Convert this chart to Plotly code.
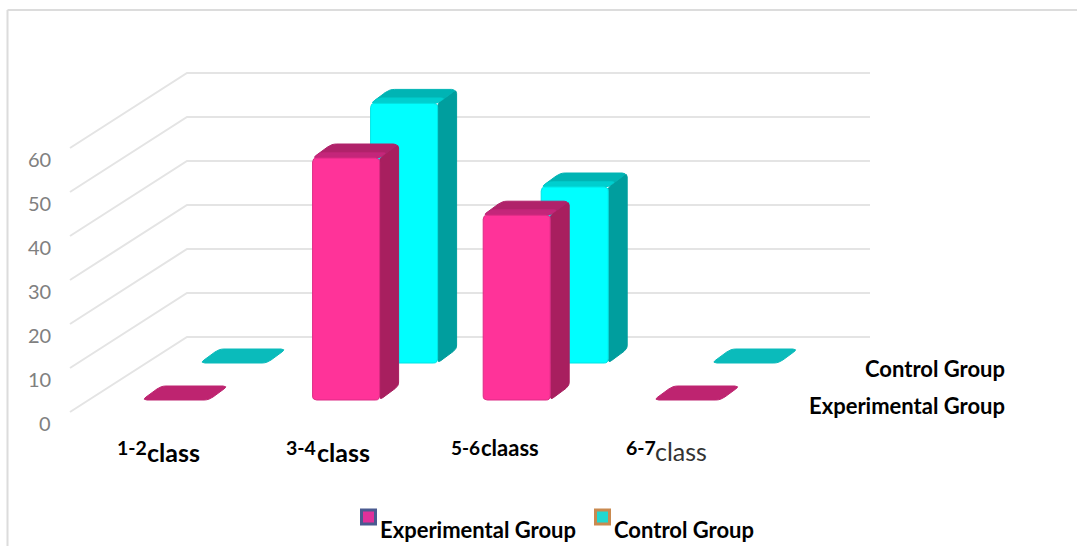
import numpy as np
import plotly.graph_objects as go

# Chart data
categories = ["1-2", "3-4", "5-6", "6-7"]
category_suffix = ["class", "class", "claass", "class"]
experimental = [0, 55, 42, 0]
control = [0, 59, 40, 0]
y_ticks = [0, 10, 20, 30, 40, 50, 60]
series_names = ["Experimental Group", "Control Group"]

# Axis scale: the x axis runs in category units, the y axis in value units
W, H = 1077, 546
PX_PER_CAT = 170.6
PX_PER_VAL = 4.4
X0_PX = 142.0
Y0_PX = 400.0


def cat_from_px(px):
    return (px - X0_PX) / PX_PER_CAT


def val_from_px(py):
    return (Y0_PX - py) / PX_PER_VAL


# Oblique projection, expressed as pixel offsets
BAR_W = 67
DEPTH_DX, DEPTH_DY = 19, 14
ROW_DX, ROW_DY = 58, 37
WALL_LEFT, WALL_FRONT_Y = 70, 412
WALL_BACK, WALL_BACK_Y = 187, 337
WALL_RIGHT = 870


def rounded(points, r):
    """Polygon in pixel offsets with softened corners, returned in axis units."""
    pts = np.array(points, dtype=float)
    n = len(pts)
    out = []
    for i in range(n):
        p, prev, nxt = pts[i], pts[i - 1], pts[(i + 1) % n]
        a = p + (prev - p) * min(r / max(np.linalg.norm(prev - p), 1e-6), 0.45)
        b = p + (nxt - p) * min(r / max(np.linalg.norm(nxt - p), 1e-6), 0.45)
        for t in np.linspace(0, 1, 5):
            out.append((1 - t) ** 2 * a + 2 * t * (1 - t) * p + t ** 2 * b)
    out.append(out[0])
    out = np.array(out)
    return cat_from_px(out[:, 0]), val_from_px(out[:, 1])


def face(fig, points, fill, edge=None, r=2.5, width=1):
    xs, ys = rounded(points, r)
    fig.add_trace(go.Scatter(
        x=xs, y=ys, mode="lines", fill="toself", fillcolor=fill,
        line=dict(color=edge or fill, width=width),
        hoverinfo="skip", showlegend=False,
    ))


def draw_bar(fig, index, value, row, colors):
    left = X0_PX + index * PX_PER_CAT + row * ROW_DX
    right = left + BAR_W
    base = Y0_PX - row * ROW_DY
    top = base - value * PX_PER_VAL
    front_color, front_edge, side, top_back, top_front, flat = colors
    if value > 0:
        # Right-hand side face
        face(fig, [(right, base), (right + DEPTH_DX, base - DEPTH_DY),
                   (right + DEPTH_DX, top - DEPTH_DY), (right, top)], side, r=4)
    # Upper face, darker towards the back
    face(fig, [(left, top), (left + DEPTH_DX, top - DEPTH_DY),
               (right + DEPTH_DX, top - DEPTH_DY), (right, top)],
         top_back if value > 0 else flat, r=5)
    if value > 0:
        mx, my = DEPTH_DX * 0.4, DEPTH_DY * 0.4
        face(fig, [(left, top), (left + mx, top - my),
                   (right + mx, top - my), (right, top)], top_front, r=4, width=0.5)
        # Front face
        face(fig, [(left, base), (left, top), (right, top), (right, base)],
             front_color, edge=front_edge, r=4)


fig = go.Figure()

# Wall and floor gridlines
for tick in y_ticks:
    xs = cat_from_px(np.array([WALL_LEFT, WALL_BACK, WALL_RIGHT], dtype=float))
    ys = val_from_px(np.array([WALL_FRONT_Y, WALL_BACK_Y, WALL_BACK_Y], dtype=float)) + tick
    fig.add_trace(go.Scatter(
        x=xs, y=ys, mode="lines", line=dict(color="#e4e4e4", width=2),
        hoverinfo="skip", showlegend=False,
    ))

control_colors = ("#00FFFF", "#00E4E4", "#009E9E", "#00B4B4", "#00CFCF", "#0ABBBB")
experimental_colors = ("#FF3399", "#DC2A84", "#A81F5F", "#B0226A", "#C4267A", "#BE2470")

for i, v in enumerate(control):
    draw_bar(fig, i, v, 1, control_colors)
for i, v in enumerate(experimental):
    draw_bar(fig, i, v, 0, experimental_colors)

annotations = []


def label(px, py, text, size, color="#000000", anchor="left", bold=True):
    annotations.append(dict(
        x=cat_from_px(px), y=val_from_px(py), xref="x", yref="y",
        text=f"<b>{text}</b>" if bold else text, showarrow=False,
        xanchor=anchor, yanchor="middle", borderpad=0, borderwidth=0,
        font=dict(family="Lato, sans-serif", size=size, color=color),
    ))


# Value labels sit just below the front end of each gridline
for tick in y_ticks:
    label(51, WALL_FRONT_Y + 11 - tick * PX_PER_VAL, str(tick), 20, color="#808080",
          anchor="right", bold=False)

# Category labels mix two sizes
label(117, 447, categories[0], 19.5)
label(147, 452, category_suffix[0], 25)
label(286, 447, categories[1], 19.5)
label(317, 452, category_suffix[1], 25)
label(451, 447, categories[2], 19)
label(481, 447, category_suffix[2], 22)
label(626, 447, categories[3], 19.5)
label(655, 451, category_suffix[3], 25, color="#333333", bold=False)

# Depth axis labels
label(1005, 368, series_names[1], 22, anchor="right")
label(1005, 405, series_names[0], 22, anchor="right")

# Legend entries
label(380, 529, series_names[0], 22)
label(614, 529, series_names[1], 22)

legend_swatches = [(368.5, "#E0309A", "#4A5A90"), (602.5, "#20D8D0", "#C98A50")]
for sx, inner, edge in legend_swatches:
    fig.add_trace(go.Scatter(
        x=[cat_from_px(sx)], y=[val_from_px(517)], mode="markers",
        marker=dict(symbol="square", size=14, color=inner, line=dict(color=edge, width=3)),
        hoverinfo="skip", showlegend=False,
    ))

fig.update_layout(
    width=W, height=H,
    margin=dict(l=0, r=0, t=0, b=0),
    paper_bgcolor="white", plot_bgcolor="white",
    showlegend=False,
    xaxis=dict(range=[cat_from_px(0), cat_from_px(W)], visible=False, fixedrange=True),
    yaxis=dict(range=[val_from_px(H), val_from_px(0)], visible=False, fixedrange=True),
    annotations=annotations,
    # Chart frame, open at the right and the bottom
    shapes=[
        dict(type="line", xref="paper", yref="paper", x0=7.5 / W, x1=1, y0=1 - 10 / H, y1=1 - 10 / H,
             line=dict(color="#dcdcdc", width=2)),
        dict(type="line", xref="paper", yref="paper", x0=7.5 / W, x1=7.5 / W, y0=0, y1=1 - 10 / H,
             line=dict(color="#dcdcdc", width=2)),
    ],
)

fig.write_html("out.html", config=dict(displayModeBar=False))
